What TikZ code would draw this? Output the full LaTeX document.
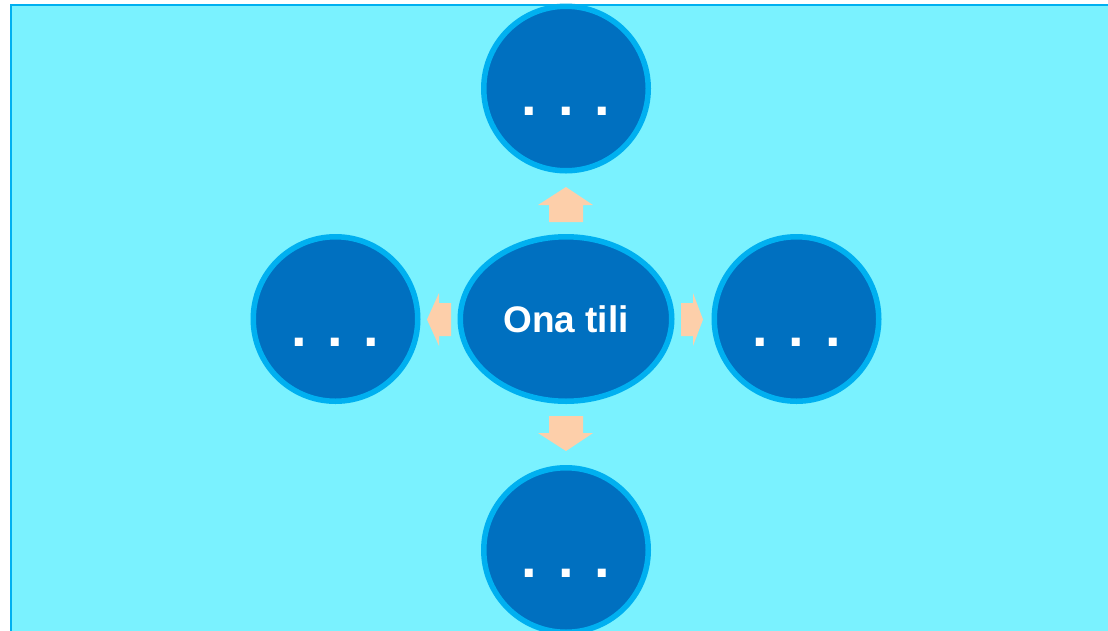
\documentclass[tikz,border=0pt]{standalone}
\usepackage{fontspec}
\setmainfont{Liberation Sans}
\usetikzlibrary{shapes.geometric}
\definecolor{bgcyan}{RGB}{122,242,255}
\definecolor{rimblue}{RGB}{0,176,240}
\definecolor{deepblue}{RGB}{0,112,192}
\definecolor{peach}{RGB}{253,207,170}
\tikzset{
  bubble/.style={circle, draw=rimblue, fill=deepblue, line width=5.5pt, minimum size=164.5pt, inner sep=0pt, text=white, font=\bfseries\fontsize{56}{56}\selectfont},
  hub/.style={ellipse, draw=rimblue, fill=deepblue, line width=5.5pt, minimum width=211.5pt, minimum height=164.5pt, inner sep=0pt, text=white, font=\bfseries\fontsize{37}{40}\selectfont},
  peacharrow/.style={fill=peach, draw=none}
}
\newcommand{\dotstext}{\raisebox{-27pt}[0pt][0pt]{. . .}}
\begin{document}
\begin{tikzpicture}[x=1pt,y=-1pt]
\useasboundingbox (0,0) rectangle (1108,630);
\fill[white] (0,0) rectangle (1108,630);
\filldraw[fill=bgcyan, draw=rimblue, line width=2.5pt] (11,5) rectangle (1125,650);
\node[hub] (c) at (566,319) {Ona tili};
\node[bubble] (t) at (566,88.5) {\dotstext};
\node[bubble] (l) at (335.5,319) {\dotstext};
\node[bubble] (r) at (796.5,319) {\dotstext};
\node[bubble] (b) at (566,550) {\dotstext};
% arrows
\fill[peacharrow] (549,222) -- (549,205) -- (538,205) -- (566,187) -- (593,205) -- (583,205) -- (583,222) -- cycle;
\fill[peacharrow] (549,416) -- (549,433) -- (538,433) -- (566,451) -- (593,433) -- (583,433) -- (583,416) -- cycle;
\fill[peacharrow] (451,303) -- (439,303) -- (439,293) -- (427,319.5) -- (439,346) -- (439,336) -- (451,336) -- cycle;
\fill[peacharrow] (681,303) -- (693,303) -- (693,293) -- (703,319.5) -- (693,346) -- (693,336) -- (681,336) -- cycle;
\end{tikzpicture}
\end{document}
